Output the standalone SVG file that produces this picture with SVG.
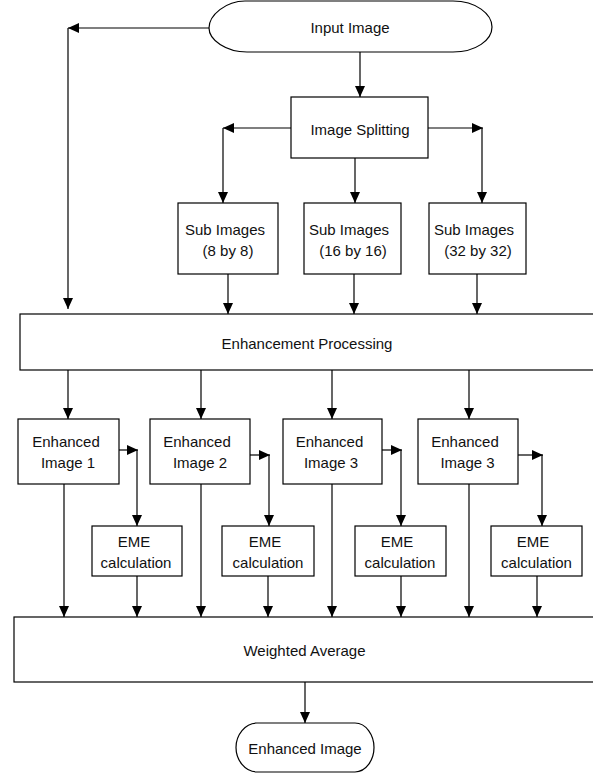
<svg xmlns="http://www.w3.org/2000/svg" width="593" height="773" viewBox="0 0 593 773">
<style>
.box{fill:#fff;stroke:#000;stroke-width:1.2}
.t{font-family:"Liberation Sans",Arial,sans-serif;font-size:15px;fill:#111;text-anchor:middle}
.c{fill:none;stroke:#000;stroke-width:1.2;marker-end:url(#ah)}
</style>
<defs>
<marker id="ah" markerUnits="userSpaceOnUse" markerWidth="11" markerHeight="10" refX="11" refY="5" orient="auto" overflow="visible">
<path d="M0,0 L11,5 L0,10 Z" fill="#000"/>
</marker>
</defs>
<rect width="593" height="773" fill="#fff"/>
<g id="connectors">
<path class="c" d="M209,28 H68"/>
<path class="c" d="M68,28 V309"/>
<path class="c" d="M360,52 V97"/>
<path class="c" d="M291,128 H223"/>
<path class="c" d="M223,128 V203"/>
<path class="c" d="M355,158 V203"/>
<path class="c" d="M428,128 H483"/>
<path class="c" d="M482,128 V203"/>
<path class="c" d="M228,274 V314"/>
<path class="c" d="M354,274 V314"/>
<path class="c" d="M477,274 V314"/>
<path class="c" d="M68,370 V419"/>
<path class="c" d="M201,370 V419"/>
<path class="c" d="M332,370 V419"/>
<path class="c" d="M469,370 V419"/>
<path class="c" d="M119,450 H138"/>
<path class="c" d="M137,450 V526"/>
<path class="c" d="M250,455 H270"/>
<path class="c" d="M269,455 V526"/>
<path class="c" d="M382,450 H402"/>
<path class="c" d="M401,450 V526"/>
<path class="c" d="M518,455 H543"/>
<path class="c" d="M542,455 V526"/>
<path class="c" d="M64,484 V617"/>
<path class="c" d="M201,484 V617"/>
<path class="c" d="M332,484 V617"/>
<path class="c" d="M469,484 V617"/>
<path class="c" d="M137,576 V617"/>
<path class="c" d="M268,576 V617"/>
<path class="c" d="M401,576 V617"/>
<path class="c" d="M537,576 V617"/>
<path class="c" d="M305,682 V723"/>
</g>
<g id="input-image">
<path class="box" d="M245,1 L453,1 C476,1 492,14 492,27 C492,40 476,52 453,52 L247,52 C226,52 209,40 209,28 C209,15 226,1 245,1 Z"/>
<text class="t" x="350" y="33">Input Image</text>
</g>
<g id="image-splitting">
<rect class="box" x="291" y="97" width="137" height="61"/>
<text class="t" x="360" y="135">Image Splitting</text>
</g>
<g id="sub-images-8">
<rect class="box" x="178" y="203" width="100" height="71"/>
<text class="t" x="225" y="235">Sub Images</text>
<text class="t" x="228" y="256">(8 by 8)</text>
</g>
<g id="sub-images-16">
<rect class="box" x="304" y="203" width="97" height="71"/>
<text class="t" x="349" y="235">Sub Images</text>
<text class="t" x="353" y="256">(16 by 16)</text>
</g>
<g id="sub-images-32">
<rect class="box" x="429" y="203" width="97" height="71"/>
<text class="t" x="474" y="235">Sub Images</text>
<text class="t" x="478" y="256">(32 by 32)</text>
</g>
<g id="enhancement-processing">
<rect class="box" x="20" y="314" width="590" height="56"/>
<text class="t" x="307" y="349">Enhancement Processing</text>
</g>
<g id="enhanced-image-1">
<rect class="box" x="18" y="419" width="101" height="65"/>
<text class="t" x="66" y="447">Enhanced</text>
<text class="t" x="68" y="468">Image 1</text>
</g>
<g id="enhanced-image-2">
<rect class="box" x="150" y="419" width="100" height="65"/>
<text class="t" x="197" y="447">Enhanced</text>
<text class="t" x="200" y="468">Image 2</text>
</g>
<g id="enhanced-image-3a">
<rect class="box" x="283" y="419" width="99" height="65"/>
<text class="t" x="329.5" y="447">Enhanced</text>
<text class="t" x="331" y="468">Image 3</text>
</g>
<g id="enhanced-image-3b">
<rect class="box" x="418" y="419" width="100" height="65"/>
<text class="t" x="465" y="447">Enhanced</text>
<text class="t" x="467.5" y="468">Image 3</text>
</g>
<g id="eme-1">
<rect class="box" x="92" y="526" width="90" height="50"/>
<text class="t" x="134" y="547">EME</text>
<text class="t" x="136" y="568">calculation</text>
</g>
<g id="eme-2">
<rect class="box" x="222" y="526" width="92" height="50"/>
<text class="t" x="265" y="547">EME</text>
<text class="t" x="268" y="568">calculation</text>
</g>
<g id="eme-3">
<rect class="box" x="355" y="526" width="91" height="50"/>
<text class="t" x="397" y="547">EME</text>
<text class="t" x="400" y="568">calculation</text>
</g>
<g id="eme-4">
<rect class="box" x="491" y="526" width="91" height="50"/>
<text class="t" x="533" y="547">EME</text>
<text class="t" x="536.5" y="568">calculation</text>
</g>
<g id="weighted-average">
<rect class="box" x="14" y="617" width="596" height="65"/>
<text class="t" x="304.5" y="656">Weighted Average</text>
</g>
<g id="enhanced-image">
<path class="box" d="M257,723 L355,723 C366,723 374,735 374,747.5 C374,760 366,772 355,772 L257,772 C245,772 236,760 236,747.5 C236,735 245,723 257,723 Z"/>
<text class="t" x="305" y="754">Enhanced Image</text>
</g>
</svg>
